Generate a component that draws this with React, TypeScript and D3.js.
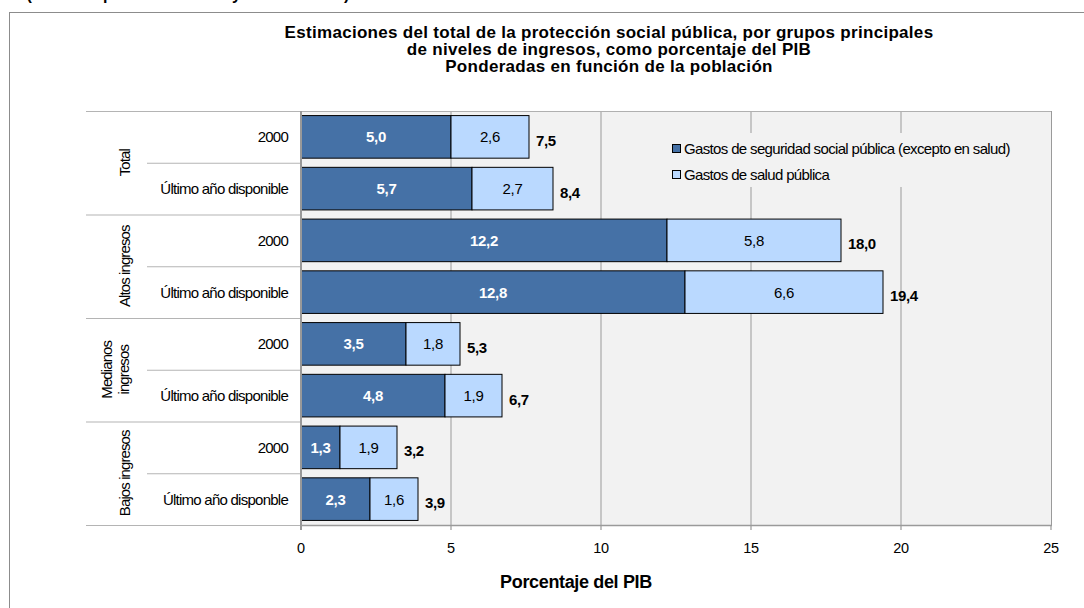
import React from "react";
import * as d3 from "d3";

const groups = ["Total", "Altos ingresos", "Medianos ingresos", "Bajos ingresos"];
const rowLabels = [
  "2000",
  "Último año disponible",
  "2000",
  "Último año disponible",
  "2000",
  "Último año disponible",
  "2000",
  "Último año disponble",
];
const socialSecurity = [5.0, 5.7, 12.2, 12.8, 3.5, 4.8, 1.3, 2.3];
const health = [2.6, 2.7, 5.8, 6.6, 1.8, 1.9, 1.9, 1.6];
const totals = [7.5, 8.4, 18.0, 19.4, 5.3, 6.7, 3.2, 3.9];
const xTicks = [0, 5, 10, 15, 20, 25];
const seriesNames = [
  "Gastos de seguridad social pública (excepto en salud)",
  "Gastos de salud pública",
];
const titleLines = [
  "Estimaciones del total de la protección social pública, por grupos principales",
  "de niveles de ingresos, como porcentaje del PIB",
  "Ponderadas en función de la población",
];

const W = 1084;
const H = 608;
const FONT = "'Liberation Sans', Arial, sans-serif";
const DARK = "#4571a6";
const LIGHT = "#bad9ff";
const GRID = "#9a9a9a";
const fmt = (v: number) => v.toFixed(1).replace(".", ",");

export default function App() {
  const plotLeft = 301;
  const plotRight = 1051;
  const plotTop = 111;
  const plotBottom = 525;

  const x = d3.scaleLinear().domain([0, 25]).range([plotLeft, plotRight]);
  const y = d3
    .scaleBand<number>()
    .domain(d3.range(rowLabels.length))
    .range([plotTop, plotBottom])
    .paddingInner(0.177)
    .paddingOuter(0.0885);
  const step = y.step();
  const bw = y.bandwidth();

  return (
    <svg
      width={W}
      height={H}
      style={{ position: "absolute", left: 0, top: 0, background: "#fff" }}
      fontFamily={FONT}
    >
      {/* partially visible header above frame */}
      <text x={188} y={0} textAnchor="middle" fontSize={16} fontWeight="bold" fill="#000">
        (Cálculos para el año 2000 y el último año)
      </text>
      {/* outer frame */}
      <rect x={9.5} y={12.5} width={1200} height={700} fill="#fff" stroke="#8c8c8c" strokeWidth={1} />

      {/* title */}
      {titleLines.map((t, i) => (
        <text
          key={i}
          x={609}
          y={37.5 + i * 17}
          textAnchor="middle"
          fontSize={17}
          fontWeight="bold"
          letterSpacing={0.3}
          fill="#000"
        >
          {t}
        </text>
      ))}

      {/* plot background */}
      <rect x={plotLeft} y={plotTop} width={plotRight - plotLeft} height={plotBottom - plotTop} fill="#f2f2f2" />

      {/* gridlines */}
      {xTicks.slice(1, -1).map((t) => (
        <line key={t} x1={x(t)} x2={x(t)} y1={plotTop} y2={plotBottom} stroke={GRID} strokeWidth={1} />
      ))}

      {/* legend */}
      <g>
        <rect x={664} y={133} width={362} height={54} fill="#f2f2f2" />
        {seriesNames.map((s, i) => (
          <g key={s}>
            <rect
              x={672.5}
              y={144.5 + i * 26}
              width={8}
              height={8}
              fill={i === 0 ? DARK : LIGHT}
              stroke="#000"
              strokeWidth={1}
            />
            <text x={684} y={154 + i * 26} fontSize={15} letterSpacing={-0.65} fill="#000">
              {s}
            </text>
          </g>
        ))}
      </g>

      {/* plot frame */}
      <line x1={plotLeft} x2={plotRight} y1={plotTop + 0.5} y2={plotTop + 0.5} stroke="#b0b0b0" />
      <line x1={plotRight + 0.5} x2={plotRight + 0.5} y1={plotTop} y2={plotBottom} stroke={GRID} />
      <line x1={plotLeft} x2={plotRight + 1} y1={plotBottom + 0.5} y2={plotBottom + 0.5} stroke={GRID} strokeWidth={1.5} />

      {/* left category separators */}
      {d3.range(groups.length + 1).map((g) => {
        const yy = plotTop + g * step * 2 + 0.5;
        return <line key={"g" + g} x1={86} x2={plotLeft} y1={yy} y2={yy} stroke="#b4b4b4" strokeWidth={1.2} />;
      })}
      {d3.range(groups.length).map((g) => {
        const yy = plotTop + (g * 2 + 1) * step + 0.5;
        return <line key={"s" + g} x1={147} x2={plotLeft} y1={yy} y2={yy} stroke="#b4b4b4" strokeWidth={1.2} />;
      })}

      {/* bars */}
      {rowLabels.map((_, i) => {
        const y0 = y(i)!;
        const a = socialSecurity[i];
        const b = health[i];
        return (
          <g key={i}>
            <rect x={x(0)} y={y0} width={x(a) - x(0)} height={bw} fill={DARK} stroke="#000" strokeWidth={1} />
            <rect x={x(a)} y={y0} width={x(a + b) - x(a)} height={bw} fill={LIGHT} stroke="#000" strokeWidth={1} />
            <text
              x={(x(0) + x(a)) / 2}
              y={y0 + bw / 2 + 5.5}
              textAnchor="middle"
              fontSize={15}
              fontWeight="bold"
              letterSpacing={-0.3}
              fill="#fff"
            >
              {fmt(a)}
            </text>
            <text
              x={(x(a) + x(a + b)) / 2}
              y={y0 + bw / 2 + 5.5}
              textAnchor="middle"
              fontSize={15}
              letterSpacing={-0.3}
              fill="#000"
            >
              {fmt(b)}
            </text>
            <text
              x={x(a + b) + 7}
              y={y0 + bw / 2 + 9}
              fontSize={15}
              fontWeight="bold"
              letterSpacing={-0.4}
              fill="#000"
            >
              {fmt(totals[i])}
            </text>
          </g>
        );
      })}

      {/* axis line */}
      <line x1={plotLeft} x2={plotLeft} y1={plotTop} y2={plotBottom + 5} stroke="#999" strokeWidth={2} />
      {xTicks.map((t) => (
        <g key={t}>
          <line x1={x(t)} x2={x(t)} y1={plotBottom} y2={plotBottom + 5} stroke={GRID} strokeWidth={1.2} />
          <text x={x(t)} y={plotBottom + 28} textAnchor="middle" fontSize={14.5} letterSpacing={-0.3} fill="#000">
            {t}
          </text>
        </g>
      ))}

      {/* row labels */}
      {rowLabels.map((l, i) => (
        <text
          key={i}
          x={288}
          y={y(i)! + bw / 2 + 5.5}
          textAnchor="end"
          fontSize={15}
          letterSpacing={-0.75}
          fill="#000"
        >
          {l}
        </text>
      ))}

      {/* group labels */}
      {groups.map((g, gi) => {
        const cy = plotTop + (gi * 2 + 1) * step;
        const words = g === "Medianos ingresos" ? ["Medianos", "ingresos"] : [g];
        return words.map((w, wi) => {
          const cx = words.length === 1 ? 125 : 107 + wi * 17;
          return (
            <text
              key={gi + "-" + wi}
              transform={`translate(${cx},${cy}) rotate(-90)`}
              textAnchor="middle"
              dy="0.35em"
              fontSize={15}
              letterSpacing={-0.9}
              fill="#000"
            >
              {w}
            </text>
          );
        });
      })}

      {/* x-axis title */}
      <text x={576} y={588} textAnchor="middle" fontSize={18} fontWeight="bold" letterSpacing={-0.35} fill="#000">
        Porcentaje del PIB
      </text>
    </svg>
  );
}
